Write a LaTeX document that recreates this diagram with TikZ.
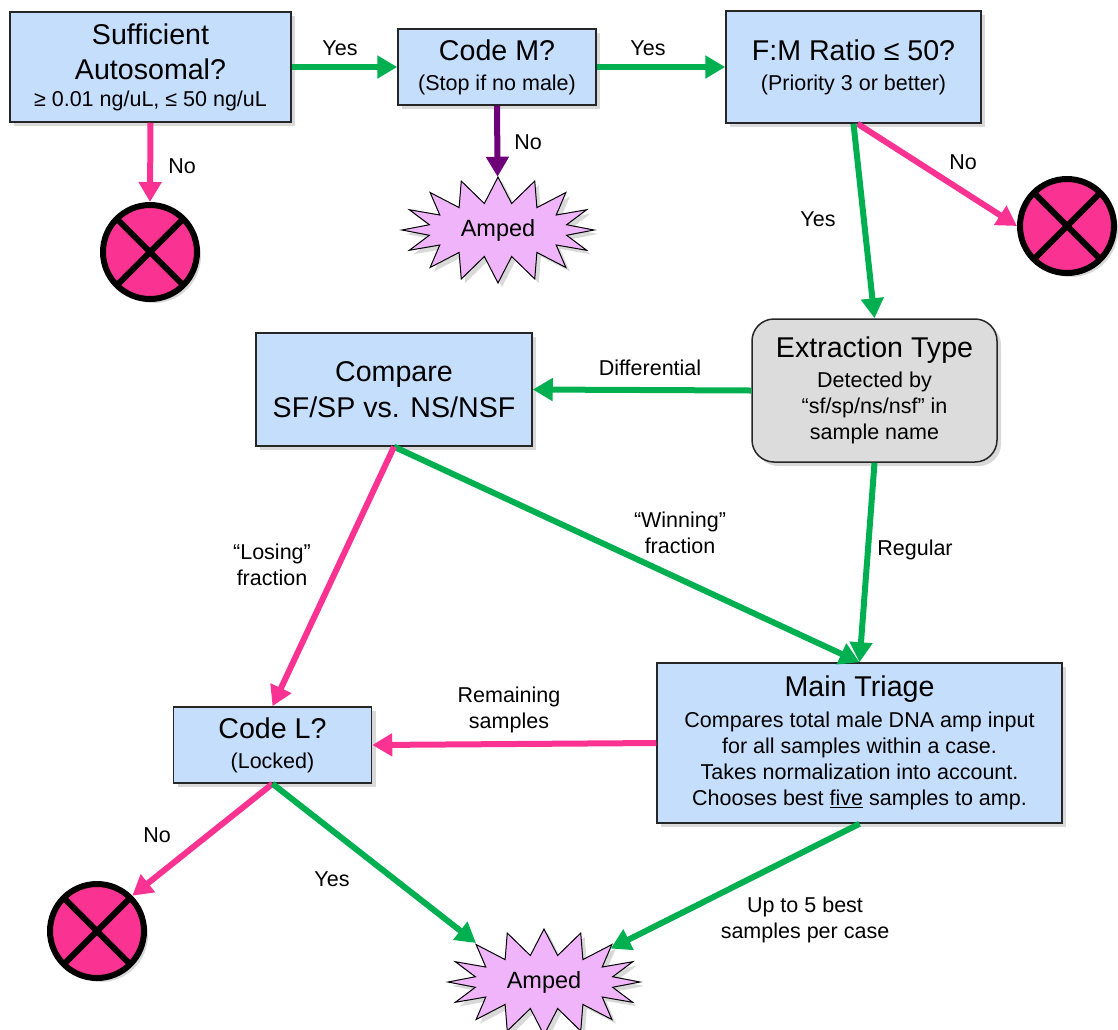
\documentclass[tikz,border=0pt]{standalone}
\usepackage{fontspec}
\setmainfont{Liberation Sans}
\usetikzlibrary{arrows.meta,shapes.symbols,shadows,calc}
\definecolor{boxblue}{RGB}{196,222,252}
\definecolor{extgray}{RGB}{220,220,220}
\definecolor{arrgreen}{RGB}{0,176,80}
\definecolor{arrpink}{RGB}{250,50,145}
\definecolor{arrpurple}{RGB}{110,0,120}
\definecolor{ampfill}{RGB}{240,180,250}
\newcommand\tfont{\fontsize{28.6}{32}\selectfont}
\newcommand\bfont{\fontsize{21.5}{26}\selectfont}
\begin{document}
\begin{tikzpicture}[x=1pt,y=-1pt,font=\bfont,
  shad/.style={drop shadow={opacity=0.3,shadow xshift=4pt,shadow yshift=-4pt}},
  box/.style={draw=black!85,line width=1.5pt,fill=boxblue,align=center,inner sep=0pt,shad},
  xcirc/.style={circle,draw=black,line width=6pt,fill=arrpink,minimum size=94pt,inner sep=0pt,shad,
    path picture={\draw[line width=6pt] (path picture bounding box.north west) -- (path picture bounding box.south east)
      (path picture bounding box.north east) -- (path picture bounding box.south west);}},
  amp/.style={starburst,starburst points=16,starburst point height=26pt,random starburst=0,draw=black,line width=1pt,
    fill=ampfill,minimum width=192pt,minimum height=106pt,inner sep=0pt,font=\fontsize{23.5}{26}\selectfont,shad},
  arr/.style={line width=6pt,-{Triangle[length=20pt,width=22pt]}},
  lbl/.style={align=center,inner sep=0pt}]
\useasboundingbox (0,0) rectangle (1118,1029);

% boxes
\node[box,minimum width=281pt,minimum height=110pt] (suff) at (150.5,67)
  {{\tfont Sufficient}\\[9pt]{\tfont Autosomal?}\\[1pt]≥ 0.01 ng/uL, ≤ 50 ng/uL};
\node[box,minimum width=198pt,minimum height=76pt] (codem) at (497,67)
  {{\tfont Code M?}\\[4pt](Stop if no male)};
\node[box,minimum width=255pt,minimum height=112pt] (fm) at (853.5,67)
  {{\tfont F:M Ratio ≤ 50?}\\[4pt](Priority 3 or better)};
\node[box,fill=extgray,rounded corners=22pt,minimum width=245pt,minimum height=143pt] (ext) at (874.5,390.5)
  {{\tfont Extraction Type}\\[4pt]Detected by\\“sf/sp/ns/nsf” in\\sample name};
\node[box,minimum width=276pt,minimum height=113pt] (cmp) at (394,389.5)
  {{\tfont Compare}\\[9pt]{\tfont SF/SP vs. NS/NSF}};
\node[box,minimum width=405pt,minimum height=160pt] (mt) at (859.5,743)
  {{\tfont Main Triage}\\[5pt]Compares total male DNA amp input\\for all samples within a case.\\Takes normalization into account.\\Chooses best \underline{five} samples to amp.};
\node[box,minimum width=198pt,minimum height=76pt] (codel) at (272.5,745)
  {{\tfont Code L?}\\[4pt](Locked)};

% terminals
\node[xcirc] (x1) at (150,252) {};
\node[xcirc] (x2) at (1067,226) {};
\node[xcirc] (x3) at (97,931) {};
\node[amp] (amp1) at (498,230) {Amped};
\node[amp] (amp2) at (544,982) {Amped};
\coordinate (amp2in) at ($(amp2.center)+(-68,-39)$);

% connectors
\draw[arr,arrgreen] (suff.east) -- (codem.west);
\draw[arr,arrgreen] (codem.east) -- (fm.west);
\draw[arr,arrpink] (suff.south) -- (x1.north);
\draw[arr,arrpurple] (codem.south) -- (amp1);
\draw[arr,arrpink] ($(fm.south)+(4,0)$) -- (x2.west);
\draw[arr,arrgreen] (fm.south) -- (ext.north);
\draw[arr,arrgreen] (ext.west) -- (cmp.east);
\draw[arr,arrgreen] (ext.south) -- (mt.north);
\draw[arr,arrgreen] (cmp.south) -- (mt.north);
\draw[arr,arrpink] (cmp.south) -- (codel.north);
\draw[arr,arrpink] (mt.west) -- (codel.east);
\draw[arr,arrpink] (codel.south) -- (x3.north east);
\draw[arr,arrgreen] (codel.south) -- (amp2in);
\draw[arr,arrgreen] (mt.south) -- (amp2);

% labels
\node[lbl] (l1) at (340,48) {Yes};
\node[lbl] (l2) at (648,48) {Yes};
\node[lbl] (l3) at (182,166) {No};
\node[lbl] (l4) at (528,142) {No};
\node[lbl] (l5) at (963,162) {No};
\node[lbl] (l6) at (818,219) {Yes};
\node[lbl] (l7) at (650,368) {Differential};
\node[lbl] (l8) at (680,533) {“Winning”\\fraction};
\node[lbl] (l9) at (272,565) {“Losing”\\fraction};
\node[lbl] (l10) at (915,550) {Regular};
\node[lbl] (l11) at (509,710) {Remaining\\samples};
\node[lbl] (l12) at (157,835) {No};
\node[lbl] (l13) at (332,879) {Yes};
\node[lbl] (l14) at (805,920) {Up to 5 best\\samples per case};
\end{tikzpicture}
\end{document}
